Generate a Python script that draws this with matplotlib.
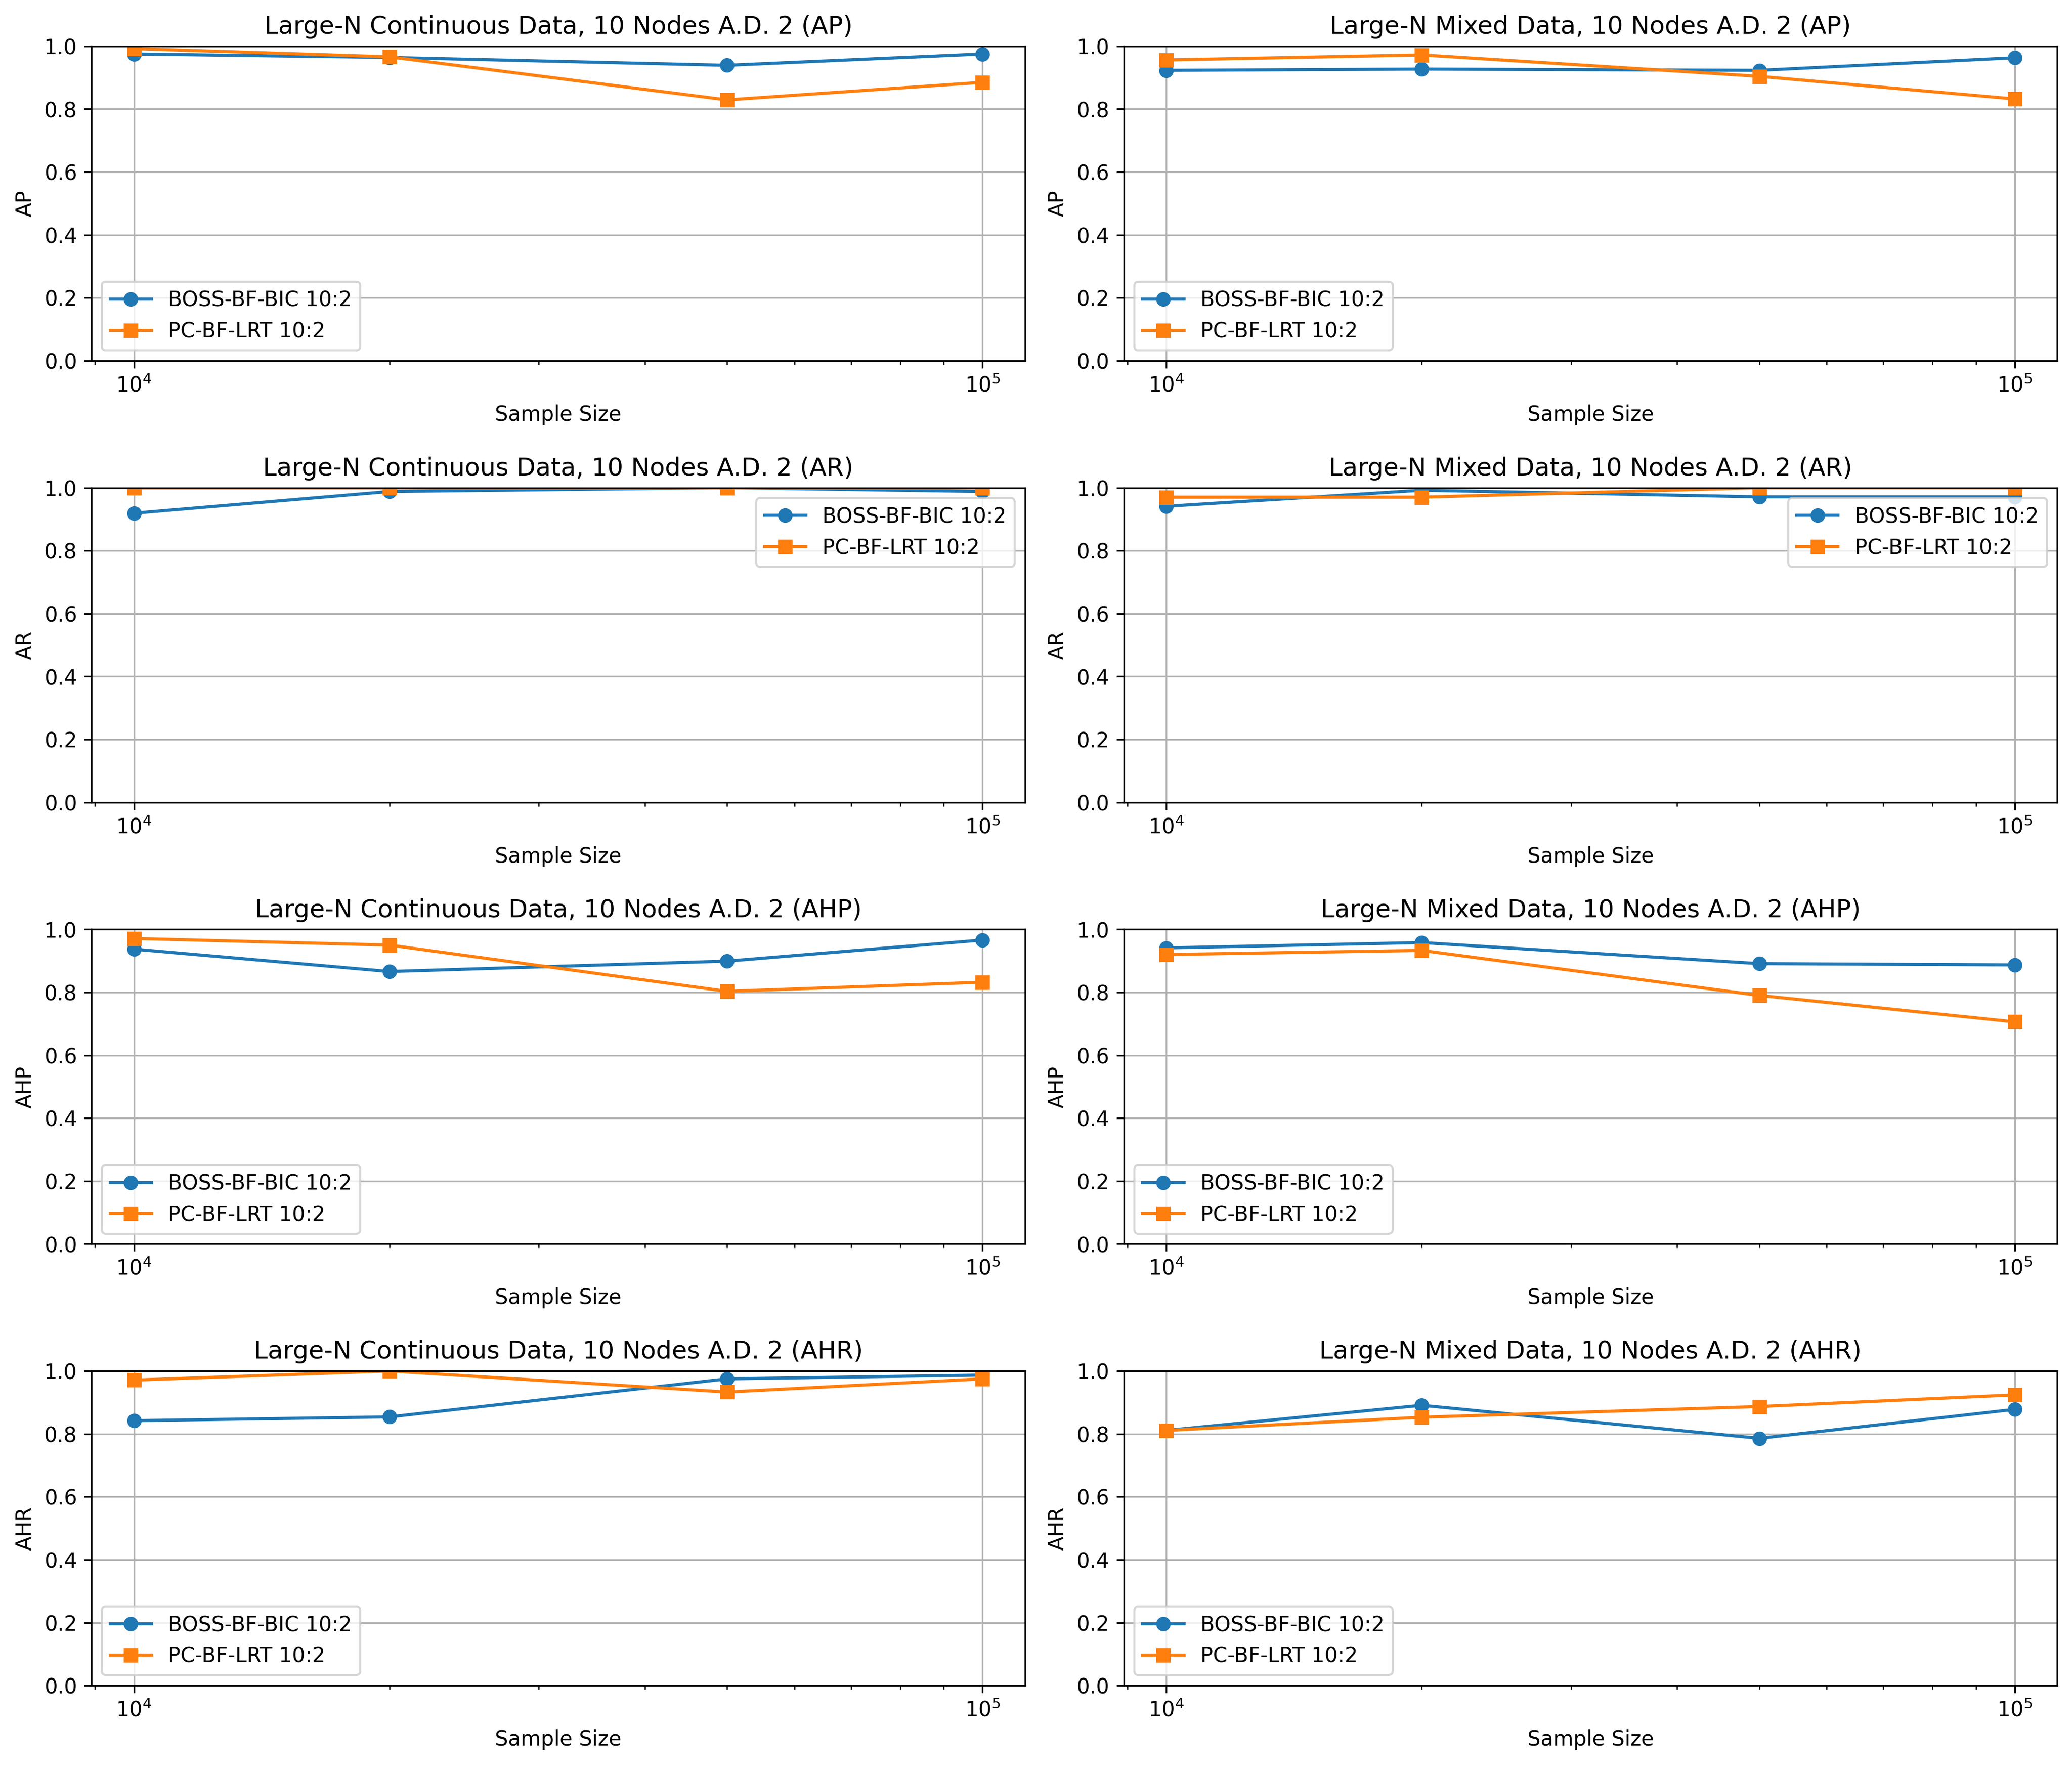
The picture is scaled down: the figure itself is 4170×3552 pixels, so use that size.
import matplotlib
matplotlib.use("Agg")
import matplotlib.pyplot as plt

sample_sizes = [10000, 20000, 50000, 100000]

# continuous data, 10 nodes, avg degree 2
cont_boss_ap = [0.975, 0.964, 0.939, 0.975]
cont_pc_ap = [0.992, 0.966, 0.829, 0.885]
cont_boss_ar = [0.919, 0.988, 1.0, 0.988]
cont_pc_ar = [1.0, 1.0, 1.0, 1.0]
cont_boss_ahp = [0.937, 0.866, 0.899, 0.966]
cont_pc_ahp = [0.971, 0.950, 0.803, 0.832]
cont_boss_ahr = [0.842, 0.854, 0.975, 0.987]
cont_pc_ahr = [0.971, 1.0, 0.933, 0.975]

# mixed data, 10 nodes, avg degree 2
mix_boss_ap = [0.923, 0.927, 0.923, 0.963]
mix_pc_ap = [0.956, 0.972, 0.904, 0.832]
mix_boss_ar = [0.941, 0.992, 0.971, 0.971]
mix_pc_ar = [0.970, 0.970, 1.0, 1.0]
mix_boss_ahp = [0.941, 0.958, 0.891, 0.887]
mix_pc_ahp = [0.920, 0.933, 0.790, 0.706]
mix_boss_ahr = [0.811, 0.891, 0.786, 0.878]
mix_pc_ahr = [0.811, 0.853, 0.887, 0.924]

metrics = ['AP', 'AR', 'AHP', 'AHR']
continuous = {
    'AP': (cont_boss_ap, cont_pc_ap),
    'AR': (cont_boss_ar, cont_pc_ar),
    'AHP': (cont_boss_ahp, cont_pc_ahp),
    'AHR': (cont_boss_ahr, cont_pc_ahr),
}
mixed = {
    'AP': (mix_boss_ap, mix_pc_ap),
    'AR': (mix_boss_ar, mix_pc_ar),
    'AHP': (mix_boss_ahp, mix_pc_ahp),
    'AHR': (mix_boss_ahr, mix_pc_ahr),
}

fig, axes = plt.subplots(4, 2, figsize=(14, 12))

for row, metric in enumerate(metrics):
    for col, (name, data) in enumerate([('Continuous', continuous), ('Mixed', mixed)]):
        ax = axes[row, col]
        boss, pc = data[metric]
        ax.plot(sample_sizes, boss, marker='o', label='BOSS-BF-BIC 10:2')
        ax.plot(sample_sizes, pc, marker='s', label='PC-BF-LRT 10:2')
        ax.set_xscale('log')
        ax.set_ylim(0, 1)
        ax.set_title(f'Large-N {name} Data, 10 Nodes A.D. 2 ({metric})')
        ax.set_xlabel('Sample Size')
        ax.set_ylabel(metric)
        ax.grid(True)
        if metric == 'AR':
            ax.legend(loc='upper right')
        else:
            ax.legend(loc='lower left')

plt.tight_layout()
plt.savefig('out.png', dpi=300, bbox_inches='tight')
